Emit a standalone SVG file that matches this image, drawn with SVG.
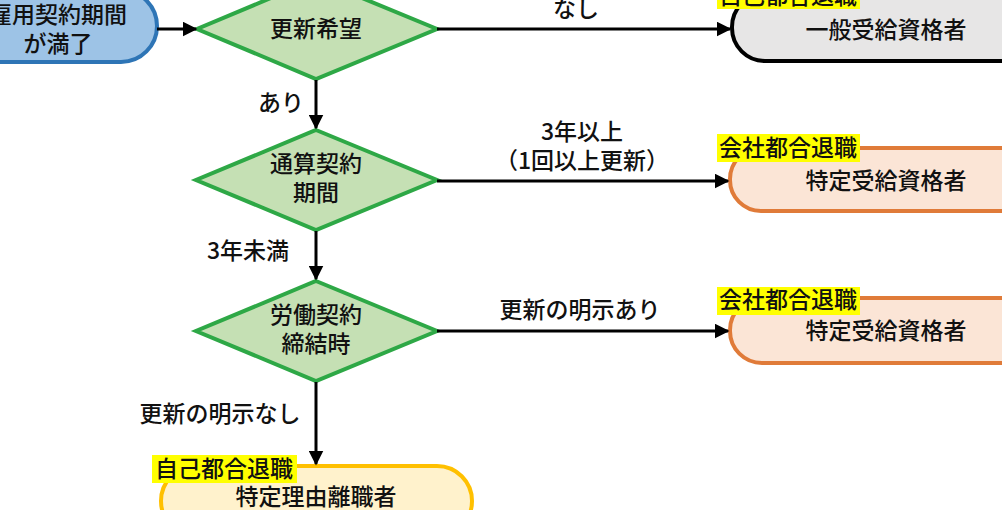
<svg xmlns="http://www.w3.org/2000/svg" width="1002" height="510" viewBox="0 0 1002 510">
<defs>
<marker id="ah" viewBox="0 0 10 10" refX="9" refY="5" markerWidth="5" markerHeight="5" orient="auto" markerUnits="strokeWidth"><path d="M0,0 L10,5 L0,10 z" fill="#000"/></marker>
<style>
text{font-family:"Noto Sans CJK JP","Noto Sans",sans-serif;font-size:23px;fill:#111;text-anchor:middle;font-weight:500}
.dia{fill:#C5E0B4;stroke:#2EA846;stroke-width:4}
.orange{fill:#FBE5D6;stroke:#E07B39;stroke-width:4}
.hl{fill:#FFFF00}
.conn line{stroke:#000;stroke-width:3;marker-end:url(#ah)}
</style>
</defs>
<rect width="1002" height="510" fill="#fff"/>
<g id="start">
<rect x="-40" y="-10" width="197" height="72" rx="36" fill="#9DC3E6" stroke="#2E75B6" stroke-width="4"/>
<text x="58" y="23">雇用契約期間</text>
<text x="58" y="52">が満了</text>
</g>
<g id="d1">
<polygon class="dia" points="316,-21 437,29 316,79 197,29"/>
<text x="316" y="37">更新希望</text>
</g>
<g id="d2">
<polygon class="dia" points="316,130 437,180 316,230 196,180"/>
<text x="316" y="172">通算契約</text>
<text x="316" y="201">期間</text>
</g>
<g id="d3">
<polygon class="dia" points="316,281 437,331 316,381 196,331"/>
<text x="316" y="323">労働契約</text>
<text x="316" y="352">締結時</text>
</g>
<g id="r1">
<rect x="732" y="-6" width="320" height="67" rx="33" fill="#E7E6E6" stroke="#000" stroke-width="4"/>
<rect class="hl" x="717" y="-20" width="143" height="29"/>
<text x="788" y="4">自己都合退職</text>
<text x="886" y="38">一般受給資格者</text>
</g>
<g id="r2">
<rect class="orange" x="730" y="148" width="320" height="63" rx="31"/>
<rect class="hl" x="717" y="134" width="143" height="28"/>
<text x="788" y="156">会社都合退職</text>
<text x="886" y="189">特定受給資格者</text>
</g>
<g id="r3">
<rect class="orange" x="730" y="298" width="320" height="65" rx="32"/>
<rect class="hl" x="717" y="287" width="143" height="28"/>
<text x="788" y="308">会社都合退職</text>
<text x="886" y="339">特定受給資格者</text>
</g>
<g id="r4">
<rect x="161" y="466" width="311" height="70" rx="35" fill="#FFF2CC" stroke="#FFC000" stroke-width="4"/>
<rect class="hl" x="152" y="455" width="145" height="28"/>
<text x="224" y="477">自己都合退職</text>
<text x="316" y="505">特定理由離職者</text>
</g>
<g class="conn" id="connectors">
<line x1="157" y1="29" x2="196" y2="29"/>
<line x1="437" y1="29" x2="730" y2="29"/>
<line x1="316" y1="80" x2="316" y2="128"/>
<line x1="437" y1="181" x2="728" y2="181"/>
<line x1="316" y1="231" x2="316" y2="279"/>
<line x1="437" y1="331" x2="728" y2="331"/>
<line x1="316" y1="382" x2="316" y2="464"/>
</g>
<g id="labels">
<text x="576" y="17">なし</text>
<text x="582" y="140">3年以上</text>
<text x="582" y="169">（1回以上更新）</text>
<text x="580" y="318">更新の明示あり</text>
<text x="281" y="111">あり</text>
<text x="248" y="259">3年未満</text>
<text x="220" y="422">更新の明示なし</text>
</g>
</svg>
